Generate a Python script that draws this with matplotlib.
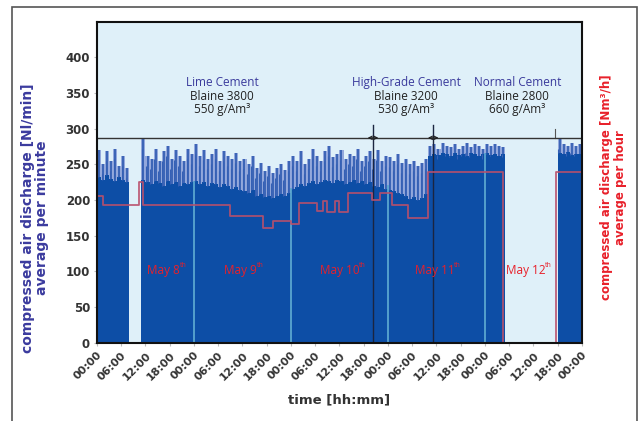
import numpy as np
import matplotlib
matplotlib.use('Agg')
import matplotlib.pyplot as plt
from matplotlib.patches import Rectangle

# minute data, read per hour: dense level and spike tops [Nl/min]
base_min = [232, 228, 235, 230, 226, 232, 228, 225,
            0, 0, 0,
            228, 225, 222, 226, 224, 220, 226, 222, 225, 220, 224, 222, 225,
            226, 222, 225, 220, 224, 222, 218, 222, 220, 216, 218, 214,
            212, 210, 214, 206, 208, 204, 206, 203, 205, 208, 206, 210,
            215, 218, 222, 220, 224, 226, 222, 225, 228, 226, 224, 228,
            226, 222, 225, 228, 224, 226, 222, 225, 220, 218, 222, 215,
            214, 212, 210, 208, 205, 202, 204, 200, 203, 208,
            262, 265, 263, 266, 264, 262, 266, 263, 265, 262, 266, 264, 262, 265,
            266, 263, 265, 262, 264,
            0, 0, 0, 0, 0, 0, 0, 0, 0, 0, 0, 0, 0,
            266, 264, 267, 263, 265, 264]
peak_min = [270, 250, 268, 255, 272, 248, 262, 245,
            0, 0, 0,
            285, 262, 258, 272, 255, 268, 275, 258, 270, 262, 255, 272, 265,
            278, 262, 270, 258, 265, 272, 255, 268, 262, 258, 266, 255,
            258, 250, 262, 245, 252, 240, 248, 238, 245, 250, 242, 255,
            262, 255, 268, 250, 258, 272, 262, 255, 268, 275, 260, 265,
            270, 258, 265, 262, 272, 255, 262, 268, 258, 270, 255, 262,
            260, 255, 265, 252, 258, 250, 255, 248, 252, 258,
            275, 278, 272, 280, 276, 274, 279, 272, 276, 280, 274, 278, 276, 272,
            278, 275, 279, 276, 274,
            0, 0, 0, 0, 0, 0, 0, 0, 0, 0, 0, 0, 0,
            285, 278, 275, 280, 276, 278]

# hourly average (red), change points [h] and levels
red_t = [0, 1.5, 10.5, 11.5, 33, 41, 43.5, 48, 50, 54.5, 56, 57, 59, 60, 62,
         68, 70, 73, 77, 82, 100.5, 113.5, 120]
red_v = [205, 193, 225, 193, 177, 161, 170, 167, 196, 185, 198, 183, 198, 183, 210,
         200, 210, 193, 175, 239, 0, 239, 239]

tick_labels = ['00:00', '06:00', '12:00', '18:00'] * 5 + ['00:00']
day_lines = [24, 48, 72, 96]
day_line_top = [225, 215, 220, 265]
change_lines = [68.3, 83.2]
limit_line = 287

cements = ['Lime Cement', 'High-Grade Cement', 'Normal Cement']
blaine = ['Blaine 3800', 'Blaine 3200', 'Blaine 2800']
density = ['550 g/Am³', '530 g/Am³', '660 g/Am³']
cement_x = [31, 76.5, 104]

days = ['8', '9', '10', '11', '12']
day_x = [16.5, 35.5, 60, 83.5, 106]

fig = plt.figure(figsize=(6.41, 4.21), dpi=100)
fig.patches.append(Rectangle((0.0187, -0.05), 0.975, 1.0334, transform=fig.transFigure,
                             fill=False, edgecolor='#555555', linewidth=1.2))

ax = fig.add_axes([0.1513, 0.1853, 0.7566, 0.7625])
ax.set_facecolor('#dff0f9')

edges = np.arange(len(base_min) + 1)
ax.stairs(peak_min, edges, fill=True, color='#93a8dc', baseline=0)
ax.vlines(edges[:-1] + 0.5, base_min, peak_min, color='#2352ac', linewidth=1.1)
ax.vlines(edges[:-1] + 0.15, base_min, np.array(peak_min) - 14, color='#3560b5', linewidth=0.8)
ax.stairs(base_min, edges, fill=True, color='#0d4ea6', baseline=0)

for i in range(len(day_lines)):
    ax.plot([day_lines[i], day_lines[i]], [0, day_line_top[i]], color='#5aa6cf', linewidth=1.3)
for c in change_lines:
    ax.plot([c, c], [0, 305], color='#1b2540', linewidth=1.0)
    ax.annotate('', xy=(c - 2, limit_line), xytext=(c + 2, limit_line),
                arrowprops=dict(arrowstyle='<->', color='#222222', lw=0.8,
                                mutation_scale=6))
ax.plot([113.3, 113.3], [limit_line, 300], color='#555555', linewidth=0.8)
ax.axhline(limit_line, color='#333333', linewidth=1.0)

ax.step(red_t, red_v, where='post', color='#b9506c', linewidth=1.3, alpha=0.9)

for i in range(len(cements)):
    ax.text(cement_x[i], 365, cements[i], color='#3a3a9c', ha='center', va='center',
            fontsize=8.5, family='Open Sans')
    ax.text(cement_x[i], 345, blaine[i], color='#222222', ha='center', va='center',
            fontsize=8.5, family='Open Sans')
    ax.text(cement_x[i], 326, density[i], color='#222222', ha='center', va='center',
            fontsize=8.5, family='Open Sans')

for i in range(len(days)):
    t = ax.text(day_x[i], 102, 'May ' + days[i], color='#e8202a',
                ha='center', va='center', fontsize=8.5, family='Open Sans')
    ax.annotate('th', xy=(1.0, 0.55), xycoords=t, color='#e8202a', ha='left',
                va='bottom', fontsize=5, family='Open Sans')

ax.set_xlim(0, 120)
ax.set_ylim(0, 449)
ax.set_xticks(np.arange(0, 121, 6))
ax.set_xticklabels(tick_labels, rotation=45, ha='right', va='top', rotation_mode='anchor',
                   fontsize=8, fontweight='bold', color='#333333')
ax.set_yticks(np.arange(0, 401, 50))
ax.set_yticklabels([str(v) for v in range(0, 401, 50)], fontsize=8.5,
                   fontweight='bold', color='#333333')
ax.tick_params(axis='both', length=2, color='#bbbbbb', pad=3)
for s in ax.spines.values():
    s.set_linewidth(1.5)
    s.set_color('#111111')

fig.text(0.5296, 0.05, 'time [hh:mm]', ha='center', va='center', fontsize=9.5,
         fontweight='bold', color='#333333')
fig.text(0.0546, 0.482, 'compressed air discharge [Nl/min]\naverage per minute',
         rotation=90, ha='center', va='center', multialignment='center',
         fontsize=10, fontweight='bold', color='#3b3b9e', linespacing=1.05)
fig.text(0.9575, 0.555, 'compressed air discharge [Nm³/h]\naverage per hour',
         rotation=90, ha='center', va='center', multialignment='center',
         fontsize=8.5, fontweight='bold', color='#e8202a', linespacing=1.1)

fig.savefig('out.png', dpi=100)
